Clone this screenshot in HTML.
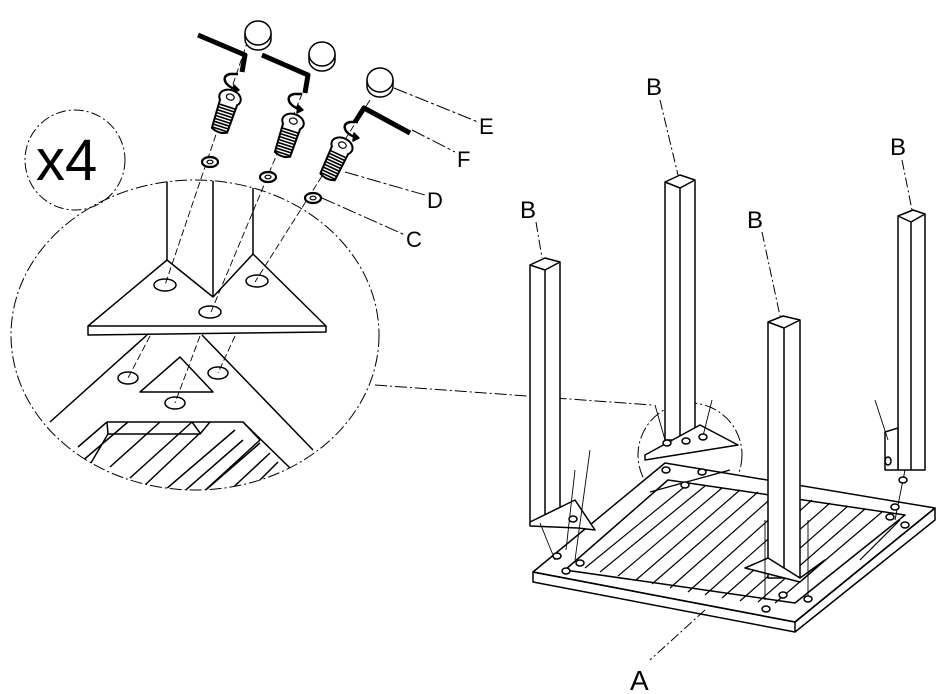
<!DOCTYPE html>
<html><head><style>html,body{margin:0;padding:0;background:#fff}svg{display:block}text{font-family:"Liberation Sans",Arial,sans-serif;fill:#000}</style></head><body>
<svg width="946" height="694" viewBox="0 0 946 694" xmlns="http://www.w3.org/2000/svg" fill="none" stroke="#000" stroke-width="1.5" stroke-linejoin="round">
<defs>
<clipPath id="ec"><ellipse cx="195" cy="335" rx="184" ry="155"/></clipPath>
<g id="screw">
<ellipse cx="0" cy="0" rx="11" ry="8" fill="#fff" stroke-width="2"/>
<ellipse cx="0" cy="-1" rx="4" ry="3" stroke-width="1.2"/>
<path d="M-9 4 L-8 34 Q0 38 8 34 L9 4" fill="#fff" stroke-width="2"/>
<path d="M-8.5 9 H8.5 M-8.5 12 H8.5 M-8.5 15 H8.5 M-8.5 18 H8.5 M-8.5 21 H8.5 M-8.5 24 H8.5 M-8.5 27 H8.5 M-8.5 30 H8.5 M-8 33 H8" stroke-width="1.6"/>
</g>
<g id="washer"><ellipse cx="0" cy="0" rx="8" ry="5" fill="#fff" stroke-width="2.2"/><ellipse cx="0" cy="0" rx="3" ry="1.8" stroke-width="1.2"/></g>
<g id="cap"><path d="M-13 0 L-13 6 A13 11 0 0 0 13 6 L13 0" fill="#fff"/><ellipse cx="0" cy="0" rx="13" ry="12" fill="#fff"/></g>
<g id="arrow"><path d="M6 -6 L-2 -6 Q-10 -4 -6 3 Q-2 8 4 9" stroke-width="2.5"/><path d="M2 5 L7 10 L1 13 Z" fill="#000"/></g>
</defs>
<!-- x4 circle -->
<circle cx="75" cy="160" r="50" stroke-dasharray="10,3,2,3" stroke-width="1"/>
<text x="36" y="180" font-size="58" stroke="none">x4</text>
<!-- large detail ellipse -->
<ellipse cx="195" cy="335" rx="184" ry="155" stroke-dasharray="12,3,2,3" stroke-width="1"/>
<line x1="375" y1="385" x2="652" y2="405" stroke-dasharray="12,3,2,3" stroke-width="1"/>
<circle cx="690" cy="455" r="52" stroke-dasharray="12,3,2,3" stroke-width="1"/>
<!-- detail contents -->
<g clip-path="url(#ec)">
<path d="M167 150 L167 260 M213 150 L213 297 M253 150 L253 254"/>
<path d="M50 422 L147 335 M202 335 L313 450"/>
<path d="M107 422 L243 422 L290 468 M107 422 L78 447 M107 422 L108 434 L200 434 L210 422"/>
<g stroke-width="1.5">
<path d="M60 480 L128 422 M75 490 L108 434"/>
<path d="M110 467 L160 422 M130 478 L192 422 L200 433 M145 485 L200 433"/>
<path d="M165 490 L235 430 M180 495 L243 440"/>
<path d="M200 495 L260 443 M225 495 L270 453 M245 495 L278 462"/>
<path d="M243 422 L260 440 L200 495"/>
</g>
</g>
<g fill="#fff">
<polygon points="88,326 167,260 213,297 253,254 326,326 326,332 88,335"/>
<path d="M88 326 L326 326"/>
</g>
<ellipse cx="165" cy="285" rx="11" ry="6"/><ellipse cx="210" cy="312" rx="11" ry="6"/><ellipse cx="257" cy="281" rx="11" ry="6"/>
<polygon points="180,357 140,392 213,392" fill="#fff"/>
<ellipse cx="128" cy="378" rx="10" ry="6"/><ellipse cx="175" cy="403" rx="10" ry="6"/><ellipse cx="218" cy="373" rx="10" ry="6"/>
<!-- dash lines through holes -->
<g stroke-width="0.9" stroke-dasharray="7,3">
<line x1="248" y1="40" x2="165" y2="285"/><line x1="310" y1="75" x2="211" y2="312"/><line x1="370" y1="100" x2="255" y2="282"/>
<line x1="150" y1="336" x2="128" y2="378"/><line x1="200" y1="336" x2="175" y2="403"/><line x1="235" y1="336" x2="218" y2="373"/>
</g>
<!-- hardware sets -->
<path d="M198 35 L245 55 L242 72" stroke-width="5" fill="none"/>
<use href="#cap" x="258" y="33"/>
<use href="#arrow" x="232" y="80"/>
<use href="#screw" transform="translate(230,98) rotate(18)"/>
<use href="#washer" x="210" y="162"/>
<path d="M262 55 L308 75 L305 93" stroke-width="5" fill="none"/>
<use href="#cap" x="322" y="54"/>
<use href="#arrow" x="296" y="100"/>
<use href="#screw" transform="translate(293,122) rotate(18)"/>
<use href="#washer" x="268" y="177"/>
<path d="M410 133 L364 108 L355 122" stroke-width="5" fill="none"/>
<use href="#cap" x="380" y="80"/>
<use href="#arrow" x="352" y="128"/>
<use href="#screw" transform="translate(342,146) rotate(25)"/>
<use href="#washer" x="313" y="198"/>
<!-- hardware leaders -->
<g stroke-width="1" stroke-dasharray="14,3,3,3">
<line x1="394" y1="88" x2="478" y2="122"/><line x1="412" y1="130" x2="455" y2="152"/>
<line x1="345" y1="172" x2="425" y2="195"/><line x1="322" y1="198" x2="405" y2="235"/>
</g>
<text x="479" y="134" font-size="22" stroke="none">E</text>
<text x="457" y="167" font-size="22" stroke="none">F</text>
<text x="427" y="208" font-size="22" stroke="none">D</text>
<text x="406" y="247" font-size="22" stroke="none">C</text>
<!-- table frame -->
<g fill="#fff">
<polygon points="533,572 533,582 795,632 935,520 935,508 795,622"/>
<polygon points="533,572 665,463 935,508 795,622"/>
</g>
<path d="M533,572 L795,622 L935,508 M795,622 L795,632"/>
<polygon points="565,570 668,480 905,515 795,603"/>
<g stroke-width="1.2">
<path d="M585 568 L688 484 M600 572 L705 486 M618 576 L722 488 M636 580 L740 490 M652 584 L758 492 M670 588 L776 494 M688 592 L794 497 M705 595 L812 500 M722 598 L830 503 M740 601 L848 506 M758 602 L865 509 M775 603 L882 512"/>
<path d="M650 492 L730 470 M860 560 L900 520"/>
</g>
<!-- legs -->
<g fill="#fff">
<polygon points="530,265 545,258 560,262 560,522 530,522"/>
<path d="M545 270 L545 522 M530 265 L545 270 L560 262"/>
<polygon points="530,522 575,500 595,530 578,528 530,526"/>
<polygon points="665,182 680,175 695,180 695,440 665,440"/>
<path d="M680 188 L680 440 M665 182 L680 188 L695 180"/>
<polygon points="645,455 700,425 738,445 645,460"/>
<polygon points="768,322 783,316 800,320 800,578 768,578"/>
<path d="M784 328 L784 578 M768 322 L784 328 L800 320"/>
<polygon points="745,568 768,558 800,578 825,560 800,582"/>
<polygon points="898,216 913,210 925,214 925,470 898,470"/>
<path d="M911 222 L911 470 M898 216 L911 222 L925 214"/>
<polygon points="885,432 898,428 898,470 885,470"/>
</g>
<g stroke-width="0.9">
<line x1="540" y1="523" x2="555" y2="560"/><line x1="575" y1="470" x2="566" y2="550"/><line x1="590" y1="450" x2="575" y2="560"/>
<line x1="655" y1="405" x2="665" y2="440"/><line x1="712" y1="400" x2="702" y2="440"/>
<line x1="765" y1="520" x2="765" y2="600"/><line x1="808" y1="520" x2="808" y2="600"/>
<line x1="875" y1="400" x2="888" y2="440"/><line x1="905" y1="470" x2="895" y2="520"/>
</g>
<g fill="#fff">
<ellipse cx="573" cy="519" rx="4" ry="3"/><ellipse cx="667" cy="443" rx="4" ry="3"/><ellipse cx="686" cy="441" rx="4" ry="3"/><ellipse cx="703" cy="437" rx="4" ry="3"/>
<ellipse cx="666" cy="470" rx="4" ry="3"/><ellipse cx="685" cy="485" rx="4" ry="3"/><ellipse cx="702" cy="472" rx="4" ry="3"/>
<ellipse cx="557" cy="556" rx="4" ry="3"/><ellipse cx="566" cy="571" rx="4" ry="3"/><ellipse cx="580" cy="563" rx="4" ry="3"/>
<ellipse cx="766" cy="609" rx="4" ry="3"/><ellipse cx="783" cy="595" rx="4" ry="3"/><ellipse cx="808" cy="599" rx="4" ry="3"/>
<ellipse cx="895" cy="507" rx="4" ry="3"/><ellipse cx="905" cy="525" rx="4" ry="3"/><ellipse cx="890" cy="517" rx="4" ry="3"/>
<ellipse cx="888" cy="461" rx="3" ry="4"/><ellipse cx="903" cy="480" rx="4" ry="3"/>
</g>
<!-- leg label leaders -->
<g stroke-width="1" stroke-dasharray="10,3,2,3">
<line x1="660" y1="100" x2="678" y2="175"/><line x1="536" y1="222" x2="542" y2="258"/>
<line x1="762" y1="232" x2="780" y2="316"/><line x1="902" y1="160" x2="912" y2="210"/>
<line x1="705" y1="610" x2="650" y2="660"/>
</g>
<text x="646" y="95" font-size="24" stroke="none">B</text>
<text x="520" y="218" font-size="24" stroke="none">B</text>
<text x="747" y="228" font-size="24" stroke="none">B</text>
<text x="890" y="155" font-size="24" stroke="none">B</text>
<text x="630" y="690" font-size="28" stroke="none">A</text>
</svg>
</body></html>
